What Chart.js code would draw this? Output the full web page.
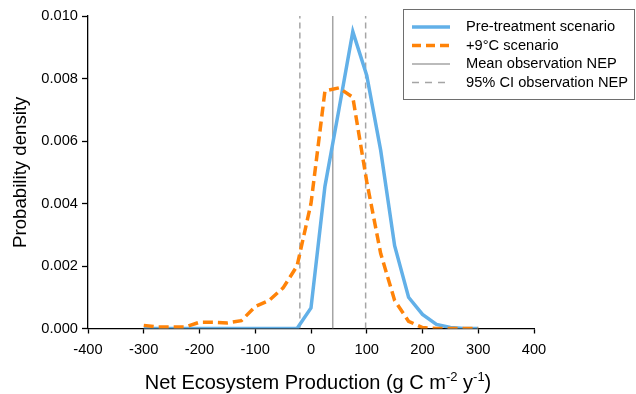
<!DOCTYPE html>
<html>
<head>
<meta charset="utf-8">
<script src="https://cdn.jsdelivr.net/npm/chart.js@4/dist/chart.umd.min.js"></script>
<style>
  body { margin: 0; background: #fff; }
  #wrap { width: 636px; height: 394px; }
</style>
</head>
<body>
<div id="wrap"><canvas id="nep" width="636" height="394"></canvas></div>
<script>
// NEP bins (g C m-2 y-1)
const nepBins = [-300, -275, -250, -225, -200, -175, -150, -125, -100, -75, -50, -25,
                 0, 25, 50, 75, 100, 125, 150, 175, 200, 225, 250, 275, 300];
const preTreatment = [0, 0, 0, 0, 0, 0, 0, 0, 0, 0, 0, 0,
                      0.00066, 0.00455, 0.0070, 0.0095, 0.0081, 0.0057, 0.00265, 0.0010, 0.00045, 0.00013, 0.00003, 0, 0];
const warming9 = [0.0001, 0.00005, 0.00005, 0.00005, 0.0002, 0.0002, 0.00018, 0.00025, 0.0007, 0.0009, 0.0013, 0.0020,
                  0.0040, 0.0076, 0.0077, 0.0074, 0.0047, 0.0024, 0.0009, 0.00023, 0.00003, 0, 0, 0, 0];
const meanNEP = 39;
const ciNEP = [-20, 98];
const xRange = [-400, 400];
const yRange = [0, 0.010];

const FONT = '"Liberation Sans", Arial, sans-serif';
const blue = '#62b0e8';
const orange = '#ff8308';
const gray = '#a5a5a5';

function pts(xs, ys) {
    return xs.map((x, i) => ({ x: x, y: ys[i] }));
}
function vline(x) {
    return [{ x: x, y: yRange[0] }, { x: x, y: yRange[1] }];
}

// legend with a frame, drawn over the plot
const boxLegend = {
    id: 'boxLegend',
    afterDraw(chart) {
        const ctx = chart.ctx;
        const items = chart.data.datasets.filter(d => !d.noLegend);
        const bx = 403, by = 9, bw = 231, bh = 90;
        ctx.save();
        ctx.fillStyle = '#fff';
        ctx.fillRect(bx, by, bw, bh);
        ctx.strokeStyle = '#6e6e6e';
        ctx.lineWidth = 1;
        ctx.strokeRect(bx + 0.5, by + 0.5, bw, bh);
        ctx.font = '14.67px ' + FONT;
        ctx.textBaseline = 'middle';
        ctx.fillStyle = '#000';
        items.forEach((d, i) => {
            const y = by + 18 + i * 18.5;
            ctx.beginPath();
            ctx.strokeStyle = d.borderColor;
            ctx.lineWidth = d.borderWidth;
            ctx.setLineDash(d.legendDash || []);
            ctx.moveTo(412, y);
            ctx.lineTo(450, y);
            ctx.stroke();
            ctx.setLineDash([]);
            ctx.fillText(d.label, 466, y);
        });
        ctx.restore();
    }
};

// x axis title with superscripts
const xTitle = {
    id: 'xTitle',
    afterDraw(chart) {
        const ctx = chart.ctx;
        const parts = [
            { t: 'Net Ecosystem Production (g C m', sup: false },
            { t: '-2', sup: true },
            { t: ' y', sup: false },
            { t: '-1', sup: true },
            { t: ')', sup: false }
        ];
        const big = '20px ' + FONT, small = '13px ' + FONT;
        ctx.save();
        let w = 0;
        parts.forEach(p => { ctx.font = p.sup ? small : big; w += ctx.measureText(p.t).width; });
        let x = chart.width / 2 - w / 2;
        const base = 389;
        ctx.fillStyle = '#000';
        ctx.textBaseline = 'alphabetic';
        parts.forEach(p => {
            ctx.font = p.sup ? small : big;
            ctx.fillText(p.t, x, p.sup ? base - 8.5 : base);
            x += ctx.measureText(p.t).width;
        });
        ctx.restore();
    }
};

const data = {
    datasets: [
        {
            label: 'Pre-treatment scenario',
            data: pts(nepBins, preTreatment),
            borderColor: blue,
            borderWidth: 3.5,
            order: 1
        },
        {
            label: '+9°C scenario',
            data: pts(nepBins, warming9),
            borderColor: orange,
            borderWidth: 3.5,
            borderDash: [10, 5],
            legendDash: [9, 5],
            order: 0
        },
        {
            label: 'Mean observation NEP',
            data: vline(meanNEP),
            borderColor: gray,
            borderWidth: 1.5,
            order: 2
        },
        {
            label: '95% CI observation NEP',
            data: vline(ciNEP[0]),
            borderColor: gray,
            borderWidth: 1.5,
            borderDash: [6, 4],
            legendDash: [7, 6],
            order: 3
        },
        {
            label: '95% CI observation NEP',
            data: vline(ciNEP[1]),
            borderColor: gray,
            borderWidth: 1.5,
            borderDash: [6, 4],
            noLegend: true,
            order: 3
        }
    ]
};

const config = {
    type: 'line',
    data: data,
    options: {
        responsive: false,
        animation: false,
        devicePixelRatio: 1,
        layout: {
            padding: { left: 0, top: 16, right: 102, bottom: 0 }
        },
        elements: {
            point: { radius: 0 },
            line: { tension: 0, fill: false, borderCapStyle: 'butt', borderJoinStyle: 'miter' }
        },
        plugins: {
            legend: { display: false },
            tooltip: { enabled: false }
        },
        scales: {
            x: {
                type: 'linear',
                min: xRange[0],
                max: xRange[1],
                afterFit: function (scale) { scale.height = 65.5; },
                border: { display: true, color: '#000', width: 1.3 },
                grid: { drawOnChartArea: false, drawTicks: true, tickLength: 5, tickColor: '#000', tickWidth: 1.3 },
                ticks: {
                    stepSize: 100,
                    color: '#000',
                    padding: 8,
                    maxRotation: 0,
                    font: { family: FONT, size: 14.67 }
                }
            },
            y: {
                min: yRange[0],
                max: yRange[1],
                afterFit: function (scale) { scale.width = 88; },
                border: { display: true, color: '#000', width: 1.3 },
                grid: { drawOnChartArea: false, drawTicks: true, tickLength: 6, tickColor: '#000', tickWidth: 1.3 },
                ticks: {
                    stepSize: 0.002,
                    color: '#000',
                    padding: 4,
                    font: { family: FONT, size: 14.67 },
                    callback: function (v) { return v.toFixed(3); }
                },
                title: {
                    display: true,
                    text: 'Probability density',
                    color: '#000',
                    padding: { top: 9.5, bottom: 0 },
                    font: { family: FONT, size: 18.67, weight: 'normal' }
                }
            }
        }
    },
    plugins: [boxLegend, xTitle]
};

let nepChart = new Chart(document.getElementById('nep'), config);
</script>
</body>
</html>
